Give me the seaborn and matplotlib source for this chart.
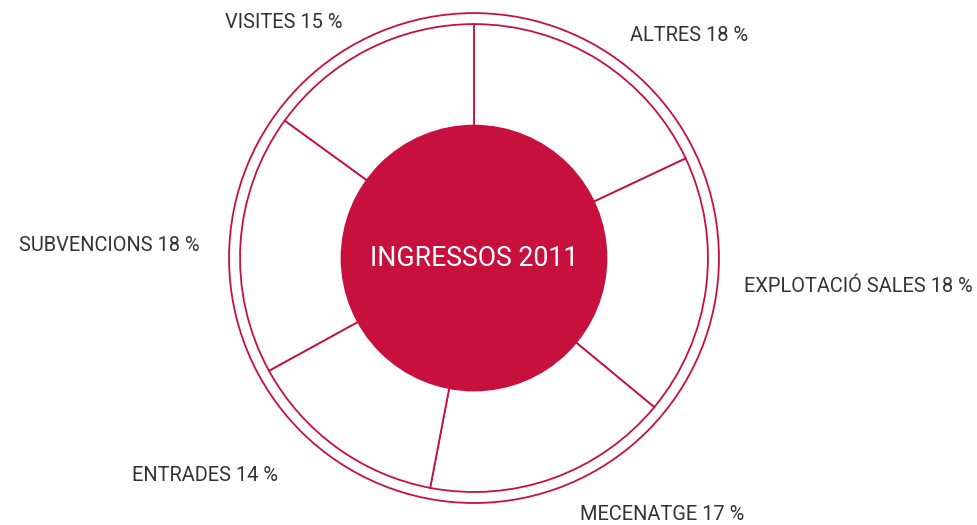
import matplotlib
matplotlib.use('Agg')
import matplotlib.pyplot as plt
import seaborn as sns

# --- Data ---
categories = ['ALTRES', 'EXPLOTACIÓ SALES', 'MECENATGE', 'ENTRADES', 'SUBVENCIONS', 'VISITES']
shares = [18, 18, 17, 14, 18, 15]
center_title = 'INGRESSOS 2011'

# label placement (x, y in pie units, radius 1 = wedge edge)
label_pos = [(0.92, 0.952), (1.645, -0.123), (0.805, -1.098), (-1.15, -0.928), (-1.56, 0.052), (-0.815, 1.007)]

CRIMSON = '#C8103E'
TEXT = '#333333'

sns.set_theme(style='white')
plt.rcParams['font.family'] = ['Roboto', 'DejaVu Sans']

fig = plt.figure(figsize=(9.77, 5.25), dpi=100)
ax = fig.add_axes([0, 0, 1, 1])

wedges, _ = ax.pie(shares, startangle=90, counterclock=False, radius=1.0,
                   colors=['white'] * len(shares),
                   wedgeprops=dict(edgecolor=CRIMSON, linewidth=1.3))

# outer ring
ax.add_patch(plt.Circle((0, 0), 1.047, fill=False, edgecolor=CRIMSON, linewidth=1.3))
# centre disc
ax.add_patch(plt.Circle((0, 0), 0.57, facecolor=CRIMSON, edgecolor='none', zorder=5))
ax.text(0, 0.0, center_title, color='white', fontsize=19.2, fontweight='normal',
        ha='center', va='center', zorder=6)

for (lx, ly), cat, val in zip(label_pos, categories, shares):
    ax.text(lx, ly, f'{cat} {val} %', color=TEXT, fontsize=14.4, fontweight='normal',
            ha='center', va='center')

ax.set_xlim(-2.026, 2.150)
ax.set_ylim(-1.141, 1.103)
ax.set_aspect('equal')
ax.axis('off')

fig.savefig('out.png', dpi=100, facecolor='white')
plt.close(fig)
